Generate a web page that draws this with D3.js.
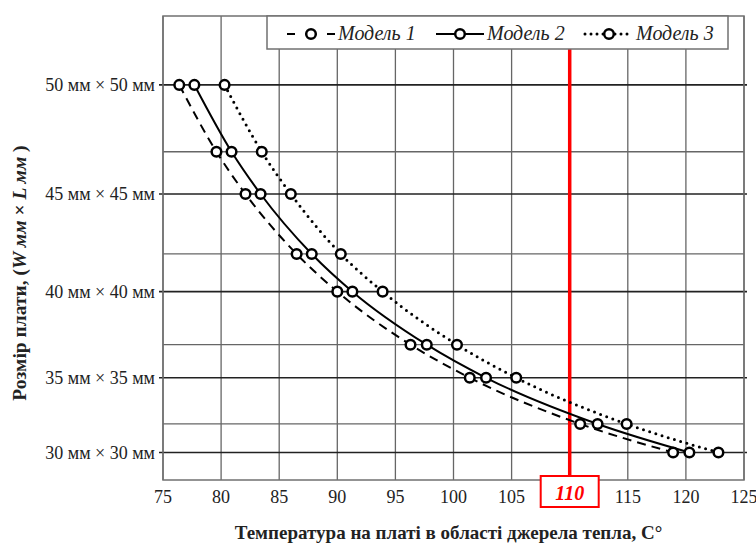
<!DOCTYPE html>
<html>
<head>
<meta charset="utf-8">
<script src="https://cdn.jsdelivr.net/npm/d3@7"></script>
<style>
  body { margin: 0; background: #fff; }
  svg { display: block; }
  text { font-family: "Liberation Serif", "Times New Roman", serif; }
</style>
</head>
<body>
<div id="chart"></div>
<script>
// board sizes (W = L, mm); the axis is linear in board area
var sizes = [50, 47, 45, 42, 40, 37, 35, 32, 30];
var majorSizes = [50, 45, 40, 35, 30];
var minorSizes = [47, 42, 37, 32];

// temperature at the heat source, C
var model1 = [76.4, 79.6, 82.1, 86.5, 90.0, 96.3, 101.4, 110.9, 118.9];
var model2 = [77.7, 80.9, 83.4, 87.8, 91.3, 97.7, 102.8, 112.4, 120.3];
var model3 = [80.3, 83.5, 86.0, 90.3, 93.9, 100.3, 105.4, 114.9, 122.8];

var xTicks = [75, 80, 85, 90, 95, 100, 105, 110, 115, 120, 125];
var limitTemp = 110;
var seriesNames = ['Модель 1', 'Модель 2', 'Модель 3'];

var width = 756, height = 545;
var plotLeft = 163, plotRight = 744, plotTop = 16, plotBottom = 480;

var svg = d3.select('#chart').append('svg')
  .attr('width', width)
  .attr('height', height);

var x = d3.scaleLinear().domain([75, 125]).range([plotLeft, plotRight]);
var y = d3.scaleLinear().domain([780, 2800]).range([plotBottom, plotTop]);
function area(s) { return s * s; }

// vertical grid
svg.append('g')
  .selectAll('line')
  .data(xTicks)
  .enter().append('line')
  .attr('x1', function(d) { return x(d); })
  .attr('x2', function(d) { return x(d); })
  .attr('y1', plotTop)
  .attr('y2', plotBottom)
  .style('stroke', '#666')
  .style('stroke-width', '1.3px');

// minor horizontal grid
svg.append('g')
  .selectAll('line')
  .data(minorSizes)
  .enter().append('line')
  .attr('x1', plotLeft)
  .attr('x2', plotRight)
  .attr('y1', function(d) { return y(area(d)); })
  .attr('y2', function(d) { return y(area(d)); })
  .style('stroke', '#666')
  .style('stroke-width', '1.3px');

// major horizontal grid + ticks
svg.append('g')
  .selectAll('line')
  .data(majorSizes)
  .enter().append('line')
  .attr('x1', plotLeft - 4)
  .attr('x2', plotRight + 3)
  .attr('y1', function(d) { return y(area(d)); })
  .attr('y2', function(d) { return y(area(d)); })
  .style('stroke', '#222')
  .style('stroke-width', '1.6px');

// frame
svg.append('rect')
  .attr('x', plotLeft)
  .attr('y', plotTop)
  .attr('width', plotRight - plotLeft)
  .attr('height', plotBottom - plotTop)
  .style('fill', 'none')
  .style('stroke', '#707070')
  .style('stroke-width', '1.5px');

// y tick labels
svg.append('g')
  .selectAll('text')
  .data(majorSizes)
  .enter().append('text')
  .attr('x', plotLeft - 8)
  .attr('y', function(d) { return y(area(d)); })
  .attr('dy', '0.35em')
  .attr('text-anchor', 'end')
  .style('font-size', '18px')
  .style('fill', '#222')
  .text(function(d) { return d + ' мм × ' + d + ' мм'; });

// x tick labels
svg.append('g')
  .selectAll('text')
  .data(xTicks.filter(function(d) { return d !== limitTemp; }))
  .enter().append('text')
  .attr('x', function(d) { return x(d); })
  .attr('y', 503)
  .attr('text-anchor', 'middle')
  .style('font-size', '18px')
  .style('fill', '#222')
  .text(function(d) { return d; });

// axis titles
svg.append('text')
  .attr('x', (plotLeft + plotRight) / 2 - 5)
  .attr('y', 539)
  .attr('text-anchor', 'middle')
  .style('font-size', '19px')
  .style('font-weight', 'bold')
  .style('fill', '#222')
  .text('Температура на платі в області джерела тепла, C°');

var yTitle = svg.append('text')
  .attr('transform', 'translate(26,273) rotate(-90)')
  .attr('text-anchor', 'middle')
  .style('font-size', '19.5px')
  .style('font-weight', 'bold')
  .style('fill', '#222');
yTitle.append('tspan').text('Розмір плати, (');
yTitle.append('tspan').style('font-style', 'italic').text('W мм');
yTitle.append('tspan').text(' × ');
yTitle.append('tspan').style('font-style', 'italic').text('L мм');
yTitle.append('tspan').text(' )');

// limit line
svg.append('line')
  .attr('x1', x(limitTemp))
  .attr('x2', x(limitTemp))
  .attr('y1', plotTop)
  .attr('y2', 476)
  .style('stroke', '#ff0000')
  .style('stroke-width', '3.5px');

svg.append('rect')
  .attr('x', x(limitTemp) - 29)
  .attr('y', 476)
  .attr('width', 58)
  .attr('height', 31)
  .style('fill', '#fff')
  .style('stroke', '#ff0000')
  .style('stroke-width', '2px');

svg.append('text')
  .attr('x', x(limitTemp))
  .attr('y', 500)
  .attr('text-anchor', 'middle')
  .style('font-size', '20px')
  .style('font-weight', 'bold')
  .style('font-style', 'italic')
  .style('fill', '#ff0000')
  .text(limitTemp);

// series
var styles = [
  { dash: '9,6', width: 2, cap: 'butt', legendDash: '8,32,8' },
  { dash: null, width: 2, cap: 'butt', legendDash: null },
  { dash: '0,6.5', width: 3, cap: 'round', legendDash: '0,6' }
];
var allSeries = [model1, model2, model3];

var line = d3.line()
  .x(function(d) { return x(d[0]); })
  .y(function(d) { return y(area(d[1])); })
  .curve(d3.curveMonotoneX);

allSeries.forEach(function(vals, i) {
  var pts = vals.map(function(v, j) { return [v, sizes[j]]; });
  svg.append('path')
    .datum(pts)
    .attr('d', line)
    .style('fill', 'none')
    .style('stroke', '#000')
    .style('stroke-width', styles[i].width + 'px')
    .style('stroke-linecap', styles[i].cap)
    .style('stroke-dasharray', styles[i].dash);
});

allSeries.forEach(function(vals) {
  svg.append('g')
    .selectAll('circle')
    .data(vals)
    .enter().append('circle')
    .attr('cx', function(d) { return x(d); })
    .attr('cy', function(d, j) { return y(area(sizes[j])); })
    .attr('r', 4.8)
    .style('fill', '#fff')
    .style('stroke', '#000')
    .style('stroke-width', '2.5px');
});

// legend
var legend = svg.append('g');
legend.append('rect')
  .attr('x', 267)
  .attr('y', plotTop)
  .attr('width', 461)
  .attr('height', 33)
  .style('fill', '#fff')
  .style('stroke', '#707070')
  .style('stroke-width', '1.5px');

var legendX = [287, 436, 585];
legendX.forEach(function(lx, i) {
  var ly = 34;
  legend.append('line')
    .attr('x1', lx)
    .attr('x2', lx + 48)
    .attr('y1', ly)
    .attr('y2', ly)
    .style('stroke', '#000')
    .style('stroke-width', styles[i].width + 'px')
    .style('stroke-linecap', styles[i].cap)
    .style('stroke-dasharray', styles[i].legendDash);
  legend.append('circle')
    .attr('cx', lx + 24)
    .attr('cy', ly)
    .attr('r', 4.8)
    .style('fill', '#fff')
    .style('stroke', '#000')
    .style('stroke-width', '2.5px');
  legend.append('text')
    .attr('x', lx + 51)
    .attr('y', ly + 6)
    .style('font-size', '20px')
    .style('font-style', 'italic')
    .style('fill', '#222')
    .text(seriesNames[i]);
});
</script>
</body>
</html>
